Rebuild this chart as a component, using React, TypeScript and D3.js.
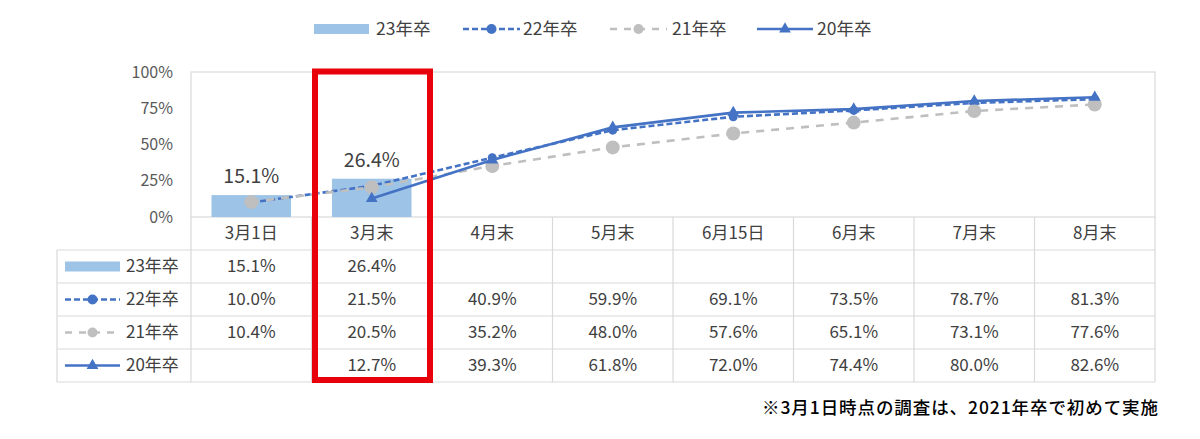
import React from "react";
import * as d3 from "d3";

const categories = ["3月1日", "3月末", "4月末", "5月末", "6月15日", "6月末", "7月末", "8月末"];
const seriesNames = ["23年卒", "22年卒", "21年卒", "20年卒"];
const s23: (number | null)[] = [15.1, 26.4, null, null, null, null, null, null];
const s22: (number | null)[] = [10.0, 21.5, 40.9, 59.9, 69.1, 73.5, 78.7, 81.3];
const s21: (number | null)[] = [10.4, 20.5, 35.2, 48.0, 57.6, 65.1, 73.1, 77.6];
const s20: (number | null)[] = [null, 12.7, 39.3, 61.8, 72.0, 74.4, 80.0, 82.6];
const yTicks = [0, 25, 50, 75, 100];
const footnote = "※3月1日時点の調査は、2021年卒で初めて実施";

const FONT = "'Noto Sans CJK JP', 'Noto Sans', sans-serif";
const BLUE = "#4472C4";
const GRAY = "#BFBFBF";
const BAR = "#9DC3E6";
const GRID = "#D9D9D9";
const TXT = "#404040";

const W = 1200;
const H = 439;
const plotL = 191;
const plotR = 1155;
const plotT = 72;
const plotB = 217;
const tableL = 57;
const rowH = 33;

export default function App() {
  const x = d3.scaleBand<string>().domain(categories).range([plotL, plotR]).padding(0);
  const y = d3.scaleLinear().domain([0, 100]).range([plotB, plotT]);
  const cx = (c: string) => (x(c) as number) + x.bandwidth() / 2;
  const barW = x.bandwidth() * 0.66;

  const lineGen = d3
    .line<number | null>()
    .defined((d) => d !== null)
    .x((_, i) => cx(categories[i]))
    .y((d) => y(d as number));

  const tri = d3.symbol().type(d3.symbolTriangle).size(60)() as string;

  const headerTop = plotB;
  const rowTops = [0, 1, 2, 3, 4].map((i) => headerTop + rowH * (i + 1));
  const tableBottom = headerTop + rowH * 5;

  const allSeries = [s23, s22, s21, s20];

  const symbol = (k: number, x0: number, x1: number, yc: number) => {
    const mid = (x0 + x1) / 2;
    if (k === 0)
      return <rect x={x0} y={yc - 5} width={x1 - x0} height={10} fill={BAR} />;
    if (k === 1)
      return (
        <g>
          <line x1={x0} x2={x1} y1={yc} y2={yc} stroke={BLUE} strokeWidth={2.5} strokeDasharray="6,3" />
          <circle cx={mid} cy={yc} r={5} fill={BLUE} />
        </g>
      );
    if (k === 2)
      return (
        <g>
          <line x1={x0} x2={x1} y1={yc} y2={yc} stroke={GRAY} strokeWidth={2.5} strokeDasharray="7,7" />
          <circle cx={mid} cy={yc} r={5} fill={GRAY} />
        </g>
      );
    return (
      <g>
        <line x1={x0} x2={x1} y1={yc} y2={yc} stroke={BLUE} strokeWidth={2.5} />
        <path d={tri} transform={`translate(${mid},${yc})`} fill={BLUE} />
      </g>
    );
  };

  const legendItems = [
    { x0: 314, x1: 369, tx: 376 },
    { x0: 463, x1: 520, tx: 523 },
    { x0: 610, x1: 667, tx: 672 },
    { x0: 757, x1: 813, tx: 817 },
  ];

  return (
    <svg
      width={W}
      height={H}
      style={{ position: "absolute", left: 0, top: 0, background: "#fff", fontFamily: FONT }}
    >
      <rect x={0} y={0} width={W} height={H} fill="#fff" />

      {legendItems.map((it, k) => (
        <g key={k}>
          {symbol(k, it.x0, it.x1, 29)}
          <text x={it.tx} y={29} dy="0.35em" fontSize={17.5} fill={TXT}>
            {seriesNames[k]}
          </text>
        </g>
      ))}

      <rect x={plotL} y={plotT} width={plotR - plotL} height={plotB - plotT} fill="none" stroke={GRID} strokeWidth={1.2} />

      {yTicks.map((t) => (
        <text key={t} x={173} y={y(t)} dy="0.35em" textAnchor="end" fontSize={16} fill="#595959">
          {t}%
        </text>
      ))}

      {s23.map((v, i) =>
        v === null ? null : (
          <g key={i}>
            <rect x={cx(categories[i]) - barW / 2} y={y(v)} width={barW} height={plotB - y(v)} fill={BAR} />
            <text x={cx(categories[i])} y={y(v) - 12} textAnchor="middle" fontSize={19.5} fill={TXT}>
              {v.toFixed(1)}%
            </text>
          </g>
        )
      )}

      <path d={lineGen(s22) || ""} fill="none" stroke={BLUE} strokeWidth={2.6} strokeDasharray="6,3" />
      {s22.map((v, i) =>
        v === null ? null : <circle key={i} cx={cx(categories[i])} cy={y(v)} r={4.5} fill={BLUE} />
      )}
      <path d={lineGen(s21) || ""} fill="none" stroke={GRAY} strokeWidth={2.6} strokeDasharray="8,7" />
      {s21.map((v, i) =>
        v === null ? null : <circle key={i} cx={cx(categories[i])} cy={y(v)} r={7} fill={GRAY} />
      )}
      <path d={lineGen(s20) || ""} fill="none" stroke={BLUE} strokeWidth={2.6} />
      {s20.map((v, i) =>
        v === null ? null : (
          <path key={i} d={tri} transform={`translate(${cx(categories[i])},${y(v)})`} fill={BLUE} />
        )
      )}

      <g stroke={GRID} strokeWidth={1.2}>
        {rowTops.map((ry, i) => (
          <line key={"h" + i} x1={tableL} x2={plotR} y1={ry} y2={ry} />
        ))}
        <line x1={tableL} x2={tableL} y1={rowTops[0]} y2={tableBottom} />
        {categories.map((c, i) => (
          <line key={"v" + i} x1={x(c) as number} x2={x(c) as number} y1={headerTop} y2={tableBottom} />
        ))}
        <line x1={plotR} x2={plotR} y1={headerTop} y2={tableBottom} />
      </g>

      {categories.map((c) => (
        <text key={c} x={cx(c)} y={headerTop + rowH / 2} dy="0.35em" textAnchor="middle" fontSize={17} fill={TXT}>
          {c}
        </text>
      ))}

      {allSeries.map((s, k) => {
        const yc = rowTops[k] + rowH / 2;
        return (
          <g key={k}>
            {symbol(k, 65, 120, yc)}
            <text x={126} y={yc} dy="0.35em" fontSize={17} fill={TXT}>
              {seriesNames[k]}
            </text>
            {s.map((v, i) =>
              v === null ? null : (
                <text key={i} x={cx(categories[i])} y={yc} dy="0.35em" textAnchor="middle" fontSize={17} fill={TXT}>
                  {v.toFixed(1)}%
                </text>
              )
            )}
          </g>
        );
      })}

      <rect x={315} y={71.5} width={115} height={308.5} fill="none" stroke="#E8000B" strokeWidth={6} />

      <text
        x={762}
        y={408}
        dy="0.35em"
        fontSize={17.5}
        fontWeight={500}
        fill="#000"
        textLength={396}
        lengthAdjust="spacing"
      >
        {footnote}
      </text>
    </svg>
  );
}
